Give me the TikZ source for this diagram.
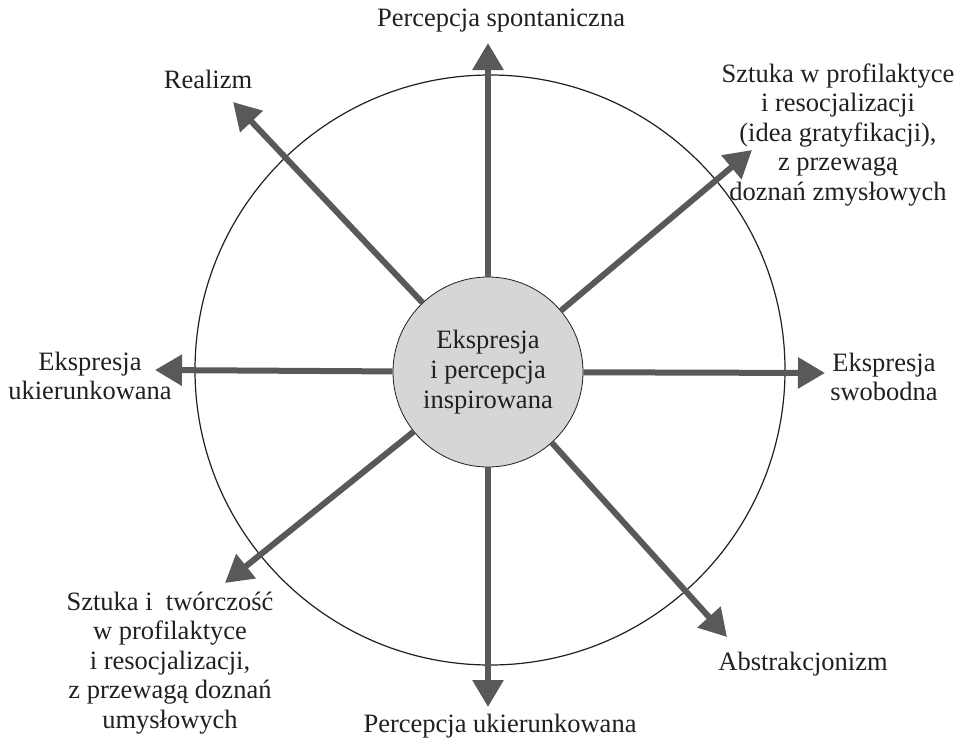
\documentclass[tikz,border=0pt]{standalone}
\usepackage{fontspec}
\setmainfont{Liberation Serif}
\usetikzlibrary{arrows.meta}
\definecolor{arr}{HTML}{595959}
\definecolor{hub}{HTML}{D6D6D6}
\definecolor{ink}{HTML}{231F20}
\begin{document}
\begin{tikzpicture}[x=1pt,y=-1pt,
  lbl/.style={font=\fontsize{26.5}{29.5}\selectfont, align=center, inner sep=0pt, text=ink},
  spoke/.style={draw=arr, line width=6pt, -{Triangle[width=30pt,length=27pt]}},
  ringstyle/.style={circle, draw=ink, line width=1.2pt, minimum size=590pt, inner sep=0pt},
  hubstyle/.style={circle, draw=ink, line width=0.8pt, fill=hub, minimum size=190pt, inner sep=0pt, align=center, font=\fontsize{26.5}{30}\selectfont, text=ink}]
\useasboundingbox (0,0) rectangle (961,739);
\node[ringstyle] (ring) at (490,370) {};
\node[hubstyle] (hub) at (488,372) {Ekspresja\\i percepcja\\inspirowana};
\coordinate (tN) at (488,43);
\coordinate (tS) at (488,707);
\coordinate (tW) at (155,370);
\coordinate (tE) at (825,373);
\coordinate (tNW) at (233,102);
\coordinate (tNE) at (752,150);
\coordinate (tSW) at (225,583);
\coordinate (tSE) at (727,637);
\foreach \t in {tN,tS,tW,tE,tNW,tNE,tSW,tSE}
  \draw[spoke] (hub) -- (\t);
\node[lbl] (lN) at (501,21) {Percepcja spontaniczna};
\node[lbl] (lNW) at (208,79) {Realizm};
\node[lbl] (lNE) at (838,135) {Sztuka w profilaktyce\\i resocjalizacji\\(idea gratyfikacji),\\z przewagą\\doznań zmysłowych};
\node[lbl] (lW) at (90,376) {Ekspresja\\ukierunkowana};
\node[lbl] (lE) at (884,377) {Ekspresja\\swobodna};
\node[lbl] (lSW) at (170,663) {Sztuka i~ twórczość\\w profilaktyce\\i resocjalizacji,\\z przewagą doznań\\umysłowych};
\node[lbl] (lSE) at (803,664) {Abstrakcjonizm};
\node[lbl] (lS) at (500,726) {Percepcja ukierunkowana};
\end{tikzpicture}
\end{document}
